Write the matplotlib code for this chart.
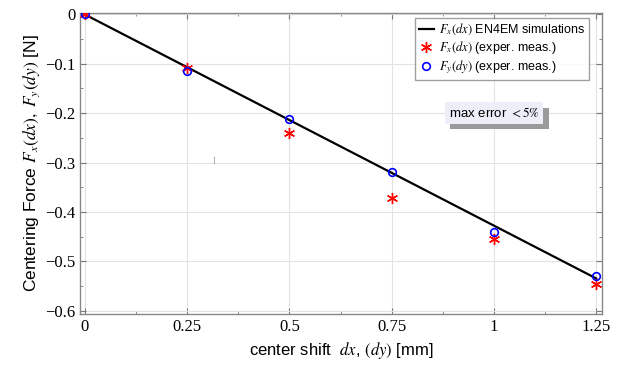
import numpy as np
import matplotlib
matplotlib.use("Agg")
import matplotlib.pyplot as plt
import matplotlib.patheffects as pe
from matplotlib.ticker import MultipleLocator

plt.rcParams['mathtext.fontset'] = 'stix'

# center shift [mm]
shift = [0, 0.25, 0.5, 0.75, 1.0, 1.25]
# EN4EM simulation
f_sim = [0, -0.107, -0.214, -0.321, -0.428, -0.535]
# measured
fx_meas = [0, -0.108, -0.240, -0.371, -0.456, -0.546]
fy_meas = [0, -0.115, -0.212, -0.320, -0.440, -0.531]

xticks = [0, 0.25, 0.5, 0.75, 1, 1.25]
xticklabels = ['0', '0.25', '0.5', '0.75', '1', '1.25']
yticks = [0, -0.1, -0.2, -0.3, -0.4, -0.5, -0.6]
yticklabels = ['0', '\u22120.1', '\u22120.2', '\u22120.3', '\u22120.4', '\u22120.5', '\u22120.6']

fig = plt.figure(figsize=(6.18, 3.66), dpi=100)
ax = fig.add_axes([80 / 618, 1 - 314 / 366, 522 / 618, 301 / 366])

ax.plot(shift, f_sim, color='black', lw=1.6, label=r'$F_x(dx)$ EN4EM simulations', zorder=3)
ax.plot(shift, fx_meas, ls='none', marker=(6, 2, 0), ms=8, mew=1.0, color='red',
        label=r'$F_x(dx)$ (exper. meas.)', zorder=4)
ax.plot(shift, fy_meas, ls='none', marker='o', ms=5.5, mew=1.2, mfc='none', mec='blue',
        label=r'$F_y(dy)$ (exper. meas.)', zorder=5)

ax.set_xlim(-0.012, 1.264)
ax.set_ylim(-0.607, 0.003)
ax.set_xticks(xticks)
ax.set_xticklabels(xticklabels, family='Liberation Serif', fontsize=12)
ax.set_yticks(yticks)
ax.set_yticklabels(yticklabels, family='Liberation Serif', fontsize=12)
ax.xaxis.set_minor_locator(MultipleLocator(0.125))
ax.yaxis.set_minor_locator(MultipleLocator(0.05))
ax.tick_params(which='both', direction='in', top=True, right=True, color='#777777')
ax.tick_params(which='major', length=4)
ax.tick_params(which='minor', length=2)
ax.grid(True, which='major', color='#e3e3e3', lw=0.8)
ax.set_axisbelow(True)
for s in ax.spines.values():
    s.set_color('#888888')
    s.set_linewidth(1.0)

ax.set_xlabel(r'center shift  $dx$, $(dy)$ [mm]', family='Liberation Sans', fontsize=12, labelpad=4)
ax.set_ylabel(r'Centering Force $F_x(dx),\ F_y(dy)$ [N]', family='Liberation Sans', fontsize=12.5, labelpad=2)

leg = ax.legend(loc='upper right', bbox_to_anchor=(0.975, 0.983), fontsize=9, frameon=True,
                fancybox=False, edgecolor='#888888', borderpad=0.3, labelspacing=0.15,
                handlelength=1.2, handletextpad=0.4, borderaxespad=0)
for t in leg.get_texts():
    t.set_family('Liberation Sans')

note = ax.text(1.0, -0.2, r'max error $<5\%$', family='Liberation Sans', fontsize=9.5,
               ha='center', va='center', zorder=6,
               bbox=dict(boxstyle='square,pad=0.3', fc='#eeeef8', ec='none'))
note.get_bbox_patch().set_path_effects(
    [pe.SimplePatchShadow(offset=(4, -4), shadow_rgbFace='#9a9a9a', alpha=1), pe.Normal()])

ax.text(0.315, -0.297, 'I', family='Liberation Serif', fontsize=7, color='#aaaaaa',
        ha='center', va='center')

fig.savefig('out.png', dpi=100)
